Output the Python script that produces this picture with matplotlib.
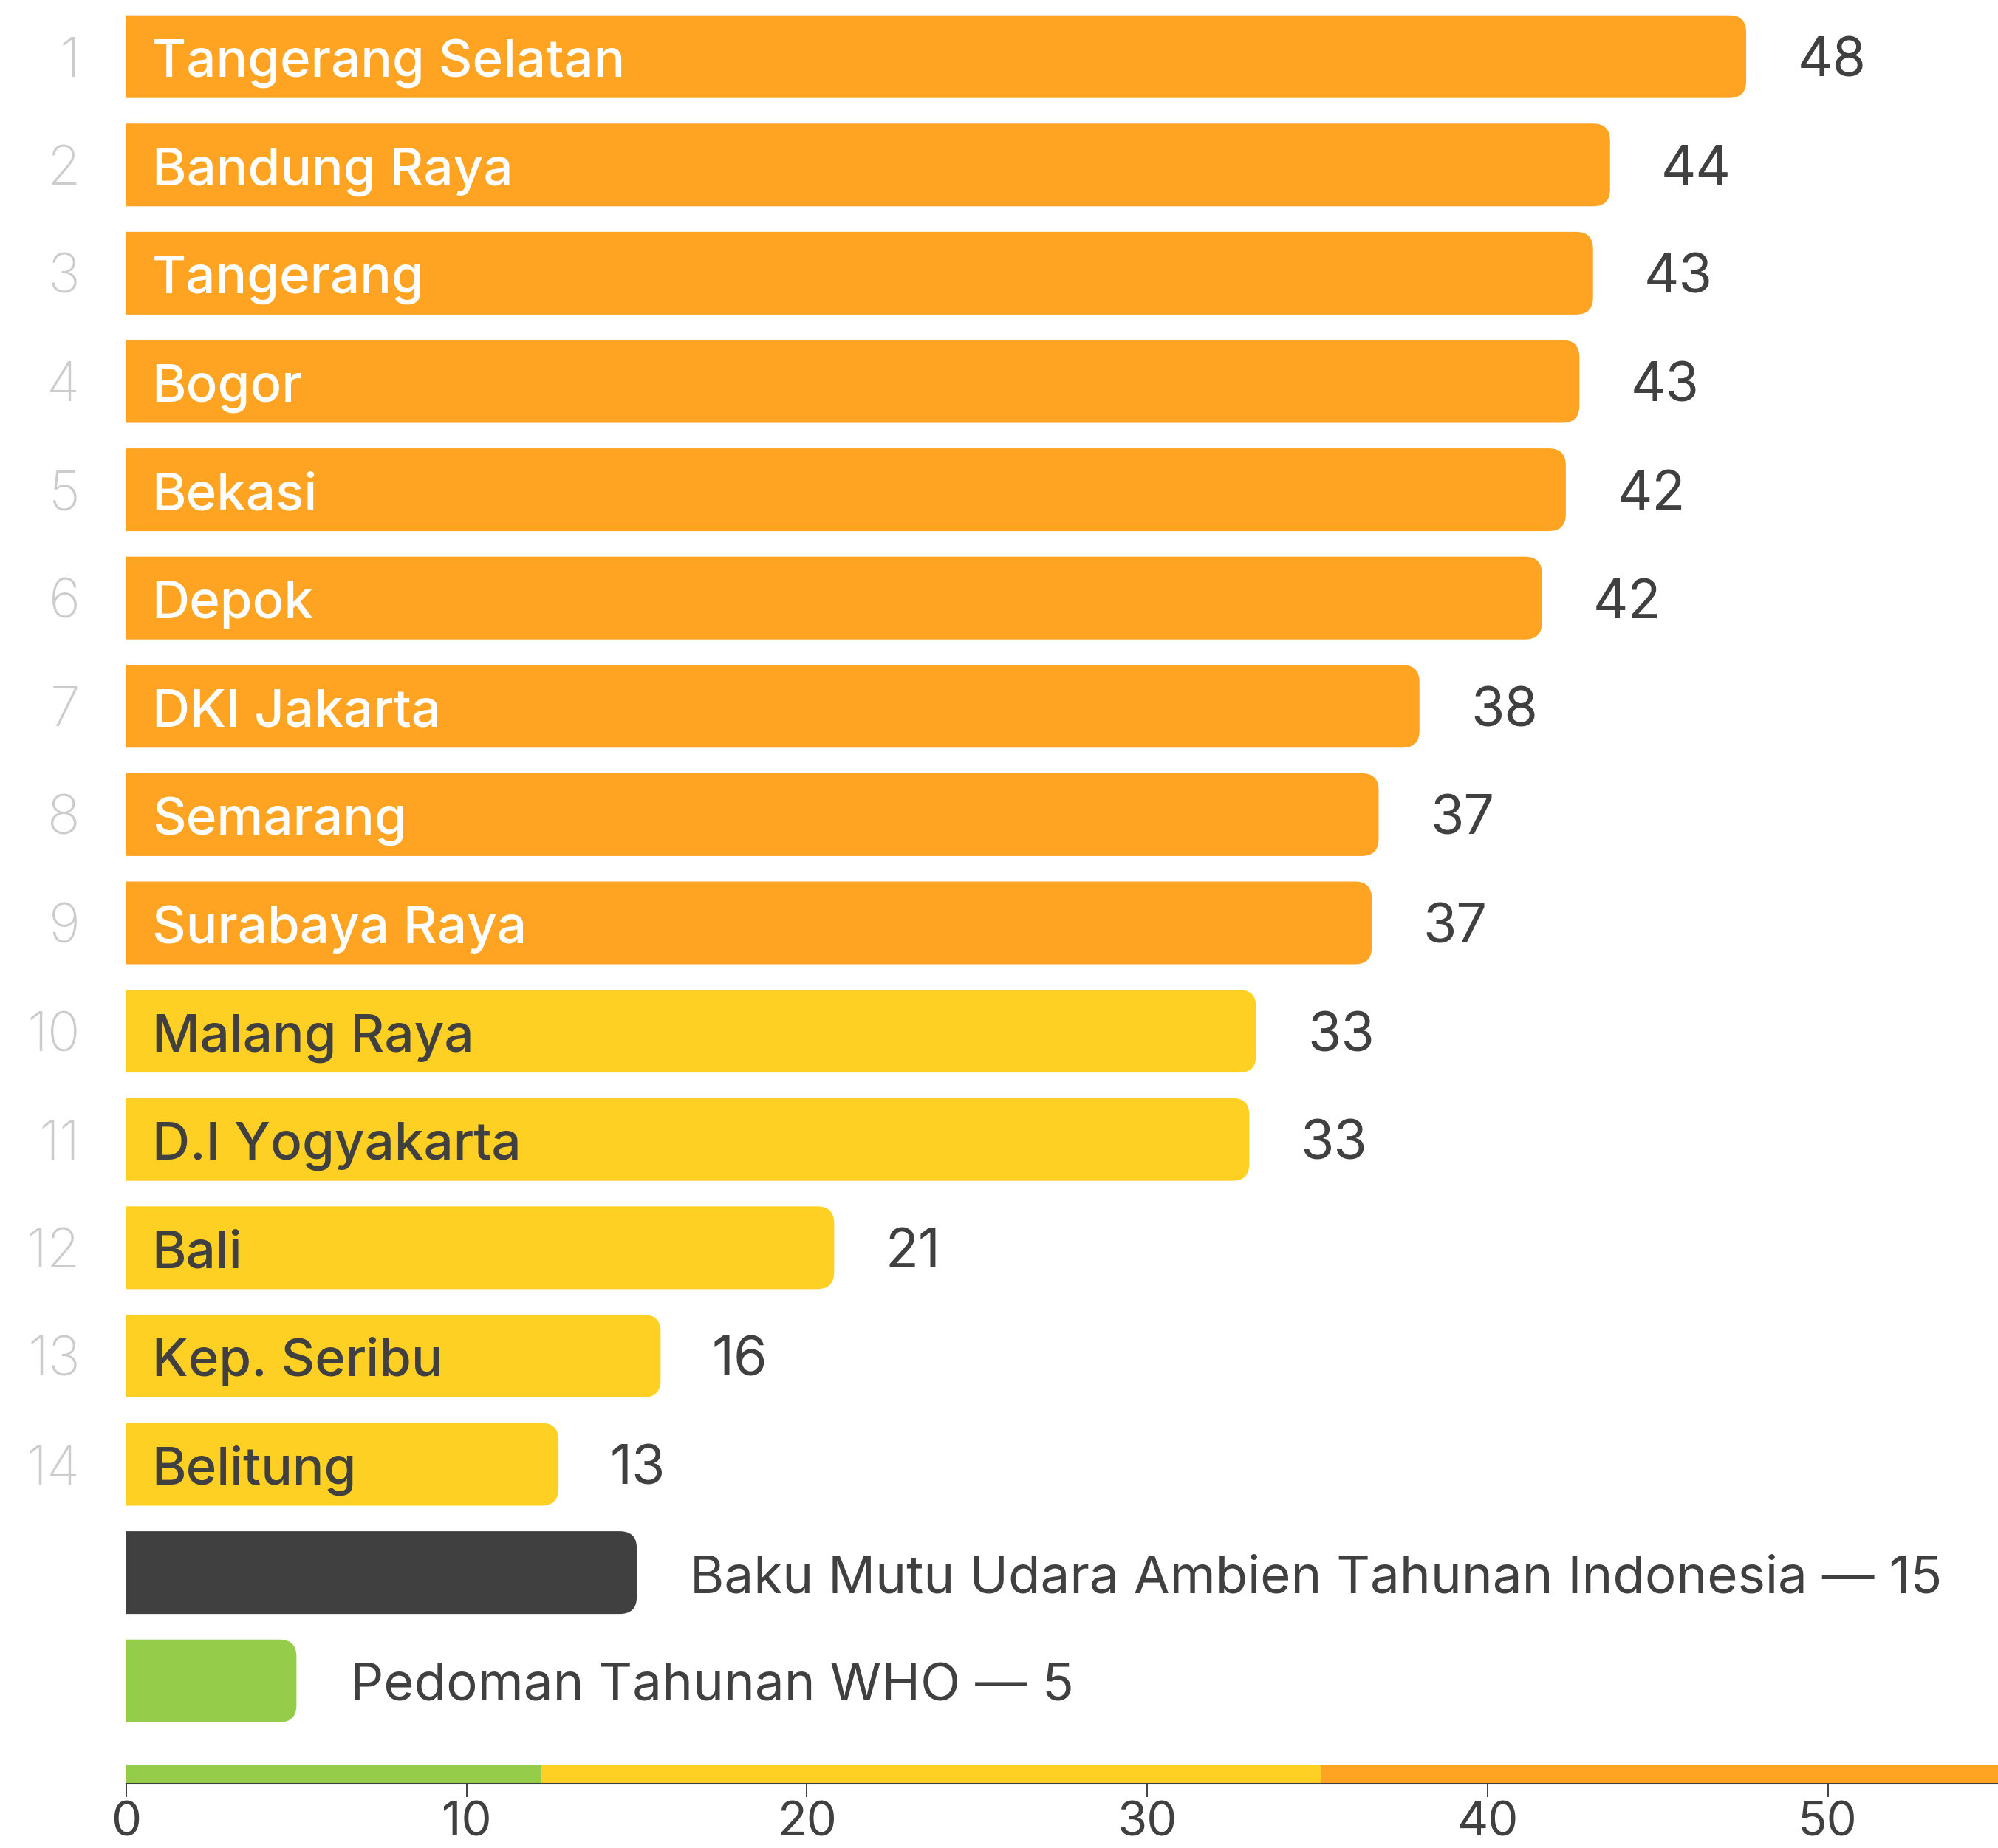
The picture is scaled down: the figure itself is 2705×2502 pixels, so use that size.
import matplotlib.pyplot as plt
from matplotlib.patches import FancyBboxPatch

# PM2.5 annual averages per region
regions = ["Tangerang Selatan", "Bandung Raya", "Tangerang", "Bogor", "Bekasi", "Depok",
           "DKI Jakarta", "Semarang", "Surabaya Raya", "Malang Raya", "D.I Yogyakarta",
           "Bali", "Kep. Seribu", "Belitung"]
pm25 = [47.6, 43.6, 43.1, 42.7, 42.3, 41.6, 38.0, 36.8, 36.6, 33.2, 33.0, 20.8, 15.7, 12.7]

# reference standards drawn under the ranking
standard_names = ["Baku Mutu Udara Ambien Tahunan Indonesia", "Pedoman Tahunan WHO"]
standard_values = [15, 5]

# colour band along the x axis
band_edges = [0, 12.2, 35.1, 55]
band_colors = ["#95CD4B", "#FFD024", "#FFA323"]

x_ticks = [0, 10, 20, 30, 40, 50]

ORANGE = "#FFA323"
YELLOW = "#FFD024"
DARK = "#404040"
GREEN = "#95CD4B"
RANK_GRAY = "#CCCCCC"

plt.rcParams['font.family'] = ['Inter', 'DejaVu Sans']

W, H, DPI = 2705, 2502, 100
fig = plt.figure(figsize=(W / DPI, H / DPI), dpi=DPI)
fig.patch.set_facecolor("white")

ax_left, ax_bottom_px, ax_top_px = 171, 2415, 0
ax = fig.add_axes([ax_left / W, (H - ax_bottom_px) / H, 1 - ax_left / W, (ax_bottom_px - ax_top_px) / H])

xmax = 55
ymin_top, ymax_bottom = -0.523, 15.95
ax.set_xlim(0, xmax)
ax.set_ylim(ymax_bottom, ymin_top)

# pixel scale per data unit, used to keep the corner rounding circular
px_x = (W - ax_left) / xmax
px_y = (ax_bottom_px - ax_top_px) / (ymax_bottom - ymin_top)
aspect = px_x / px_y

bar_h = 0.764
radius = 23 / px_x


def rounded_bar(y, value, color):
    # start left of the axes so only the right corners show
    patch = FancyBboxPatch((-2, y - bar_h / 2), value + 2, bar_h,
                           boxstyle=f"round,pad=0,rounding_size={radius}",
                           mutation_aspect=aspect, facecolor=color, edgecolor="none",
                           clip_on=True)
    ax.add_patch(patch)


label_size = 53
half_cap = 27 * 72 / DPI

for i, (name, v) in enumerate(zip(regions, pm25)):
    color = ORANGE if v >= band_edges[2] else YELLOW
    rounded_bar(i, v, color)
    ax.annotate(name, (0, i), xytext=(25, -half_cap), textcoords="offset points",
                ha="left", va="baseline", fontsize=51, fontweight="medium",
                color="white" if color == ORANGE else DARK)
    ax.annotate(f"{v:.0f}", (v, i), xytext=(50, -half_cap), textcoords="offset points",
                ha="left", va="baseline", fontsize=label_size, color=DARK)
    ax.annotate(str(i + 1), (0, i), xytext=(-45, -half_cap), textcoords="offset points",
                ha="right", va="baseline", fontsize=label_size, fontweight="light",
                color=RANK_GRAY, annotation_clip=False)

for j, (name, v, c) in enumerate(zip(standard_names, standard_values, [DARK, GREEN])):
    y = len(regions) + j
    rounded_bar(y, v, c)
    ax.annotate(f"{name} — {v}", (v, y), xytext=(52, -half_cap), textcoords="offset points",
                ha="left", va="baseline", fontsize=51, color=DARK)

# category band above the axis line
for lo, hi, c in zip(band_edges[:-1], band_edges[1:], band_colors):
    ax.broken_barh([(lo, hi - lo)], (15.77, ymax_bottom - 15.77), facecolors=c)

for s in ["top", "right", "left"]:
    ax.spines[s].set_visible(False)
ax.spines["bottom"].set_color(DARK)
ax.spines["bottom"].set_linewidth(1.5)
ax.set_yticks([])
ax.set_xticks(x_ticks)
ax.tick_params(axis="x", length=13, width=1.4, color=DARK, labelcolor=DARK,
               labelsize=47, pad=4)

fig.savefig("out.png", dpi=DPI, facecolor="white")
